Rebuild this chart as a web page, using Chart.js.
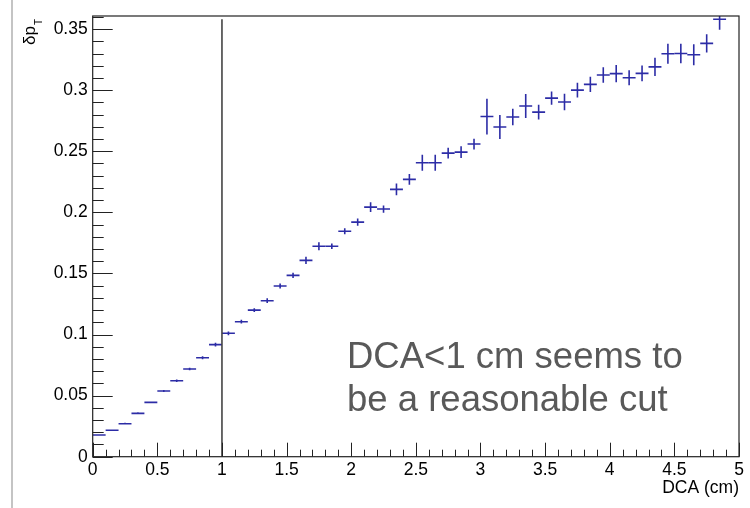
<!DOCTYPE html>
<html>
<head>
<meta charset="utf-8">
<script src="https://cdn.jsdelivr.net/npm/chart.js@4/dist/chart.umd.min.js"></script>
<style>
  html, body { margin: 0; padding: 0; background: #fff; }
  canvas { display: block; }
</style>
</head>
<body>
<canvas id="chart1" width="750" height="508"></canvas>
<script>
// DCA bin centres (cm), bin width 0.1
const dcaBins = [
  0.05, 0.15, 0.25, 0.35, 0.45, 0.55, 0.65, 0.75, 0.85, 0.95,
  1.05, 1.15, 1.25, 1.35, 1.45, 1.55, 1.65, 1.75, 1.85, 1.95,
  2.05, 2.15, 2.25, 2.35, 2.45, 2.55, 2.65, 2.75, 2.85, 2.95,
  3.05, 3.15, 3.25, 3.35, 3.45, 3.55, 3.65, 3.75, 3.85, 3.95,
  4.05, 4.15, 4.25, 4.35, 4.45, 4.55, 4.65, 4.75, 4.85,
];
const binHalfWidth = 0.05;

// delta pT per bin
const dpT = [
  0.0178, 0.0216, 0.027, 0.0355, 0.0445, 0.0538, 0.0622, 0.0718, 0.081, 0.0917,
  0.101, 0.1105, 0.12, 0.1277, 0.1397, 0.1484, 0.1607, 0.1722, 0.1722, 0.1845,
  0.192, 0.2043, 0.2027, 0.2188, 0.227, 0.2406, 0.2406, 0.2485, 0.2493, 0.2559,
  0.2784, 0.2698, 0.278, 0.287, 0.282, 0.2935, 0.2903, 0.3, 0.3047, 0.3124,
  0.3135, 0.3102, 0.3137, 0.3191, 0.3298, 0.33, 0.329, 0.3383, 0.358,
];

// statistical error per bin
const dpTErr = [
  0.0004, 0.0004, 0.0007, 0.0008, 0.0006, 0.0008, 0.001, 0.001, 0.0012, 0.0015,
  0.0015, 0.0015, 0.0016, 0.002, 0.002, 0.0022, 0.003, 0.0033, 0.0022, 0.0025,
  0.003, 0.004, 0.003, 0.0048, 0.0044, 0.0065, 0.0065, 0.0044, 0.0048, 0.0044,
  0.0146, 0.0098, 0.0068, 0.0098, 0.006, 0.0055, 0.0068, 0.006, 0.0063, 0.0064,
  0.0071, 0.0061, 0.0064, 0.0075, 0.0082, 0.0079, 0.0086, 0.0074, 0.0085,
];

// axes
const xMin = 0, xMax = 5, xMajor = 0.5, xMinor = 0.1;
const yMin = 0, yMax = 0.3607, yMajor = 0.05, yMinor = 0.01;

// cut line
const cutX = 1;
const cutTop = 0.358;

const noteLines = ["DCA<1 cm seems to", "be a reasonable cut"];

const FONT = '"Liberation Sans", Arial, Helvetica, sans-serif';
const markerColor = "#2c2ca6";

const points = dcaBins.map((x, i) => ({ x, y: dpT[i], e: dpTErr[i] }));

/**
 * ROOT-like drawing: error crosses, frame, inside ticks, cut line, texts
 */
const rootStyle = {
  id: "rootStyle",
  beforeDraw(chart) {
    const ctx = chart.ctx;
    ctx.save();
    ctx.fillStyle = "#fff";
    ctx.fillRect(0, 0, chart.width, chart.height);
    // slide border on the left
    ctx.strokeStyle = "#b0b0b0";
    ctx.lineWidth = 1.5;
    ctx.beginPath();
    ctx.moveTo(12, 0);
    ctx.lineTo(12, chart.height);
    ctx.stroke();
    ctx.restore();
  },
  afterDatasetsDraw(chart) {
    const { ctx, chartArea: a, scales } = chart;
    const xs = scales.x, ys = scales.y;

    ctx.save();
    ctx.beginPath();
    ctx.rect(a.left, a.top, a.right - a.left, a.bottom - a.top);
    ctx.clip();

    // error crosses
    ctx.strokeStyle = markerColor;
    ctx.lineWidth = 1.6;
    points.forEach((p) => {
      const px = xs.getPixelForValue(p.x);
      const py = ys.getPixelForValue(p.y);
      ctx.beginPath();
      ctx.moveTo(xs.getPixelForValue(p.x - binHalfWidth), py);
      ctx.lineTo(xs.getPixelForValue(p.x + binHalfWidth), py);
      const top = ys.getPixelForValue(p.y + p.e);
      const bot = ys.getPixelForValue(p.y - p.e);
      if (bot - top > 1) {
        ctx.moveTo(px, top);
        ctx.lineTo(px, bot);
      }
      ctx.stroke();
    });

    // cut line
    ctx.strokeStyle = "#444";
    ctx.lineWidth = 1.6;
    ctx.beginPath();
    ctx.moveTo(xs.getPixelForValue(cutX), ys.getPixelForValue(0));
    ctx.lineTo(xs.getPixelForValue(cutX), ys.getPixelForValue(cutTop));
    ctx.stroke();
    ctx.restore();

    // frame
    ctx.save();
    ctx.strokeStyle = "#222";
    ctx.lineWidth = 1.2;
    ctx.strokeRect(a.left, a.top, a.right - a.left, a.bottom - a.top);

    // x ticks (inside)
    ctx.lineWidth = 1;
    ctx.beginPath();
    const nx = Math.round((xMax - xMin) / xMinor);
    for (let i = 0; i <= nx; i++) {
      const v = xMin + i * xMinor;
      const px = Math.round(xs.getPixelForValue(v)) + 0.5;
      const isMajor = Math.abs(v / xMajor - Math.round(v / xMajor)) < 1e-6;
      const len = isMajor ? 14 : 7;
      ctx.moveTo(px, a.bottom);
      ctx.lineTo(px, a.bottom - len);
    }
    // y ticks (inside)
    const ny = Math.floor((yMax - yMin) / yMinor + 1e-6);
    for (let i = 0; i <= ny; i++) {
      const v = yMin + i * yMinor;
      const py = Math.round(ys.getPixelForValue(v)) + 0.5;
      const isMajor = Math.abs(v / yMajor - Math.round(v / yMajor)) < 1e-6;
      const len = isMajor ? 20 : 11;
      ctx.moveTo(a.left, py);
      ctx.lineTo(a.left + len, py);
    }
    ctx.stroke();

    // axis titles
    ctx.fillStyle = "#000";
    ctx.font = "17.5px " + FONT;
    ctx.textAlign = "right";
    ctx.textBaseline = "alphabetic";
    ctx.fillText("DCA (cm)", a.right, a.bottom + 36);

    ctx.save();
    ctx.translate(35, a.top + 3);
    ctx.rotate(-Math.PI / 2);
    ctx.textAlign = "right";
    ctx.font = "10px " + FONT;
    ctx.fillText("T", 0, 7);
    ctx.font = "17px " + FONT;
    ctx.fillText("δp", -7, 0);
    ctx.restore();

    // note
    ctx.fillStyle = "#595959";
    ctx.font = "36.5px " + FONT;
    ctx.textAlign = "left";
    noteLines.forEach((t, i) => {
      ctx.fillText(t, 347, 368 + i * 43);
    });
    ctx.restore();
  },
};

const fmt = (v) => String(+Number(v).toFixed(2));

new Chart(document.getElementById("chart1"), {
  type: "scatter",
  data: {
    datasets: [
      {
        label: "dpT",
        data: points,
        pointRadius: 0,
        pointHoverRadius: 0,
        showLine: false,
      },
    ],
  },
  options: {
    responsive: false,
    animation: false,
    events: [],
    layout: { padding: { left: 0, top: 16, right: 11, bottom: 0 } },
    plugins: { legend: { display: false }, tooltip: { enabled: false } },
    scales: {
      x: {
        type: "linear",
        min: xMin,
        max: xMax,
        border: { display: false },
        grid: { display: false, drawTicks: false },
        ticks: {
          stepSize: xMajor,
          padding: 3,
          color: "#000",
          font: { family: FONT, size: 17.5 },
          maxRotation: 0,
          autoSkip: false,
          callback: fmt,
        },
        afterFit: (s) => { s.height = 51.3; },
      },
      y: {
        type: "linear",
        min: yMin,
        max: yMax,
        border: { display: false },
        grid: { display: false, drawTicks: false },
        ticks: {
          stepSize: yMajor,
          includeBounds: false,
          padding: 5,
          color: "#000",
          font: { family: FONT, size: 17.5 },
          callback: fmt,
        },
        afterFit: (s) => { s.width = 92.7; },
      },
    },
  },
  plugins: [rootStyle],
});
</script>
</body>
</html>
